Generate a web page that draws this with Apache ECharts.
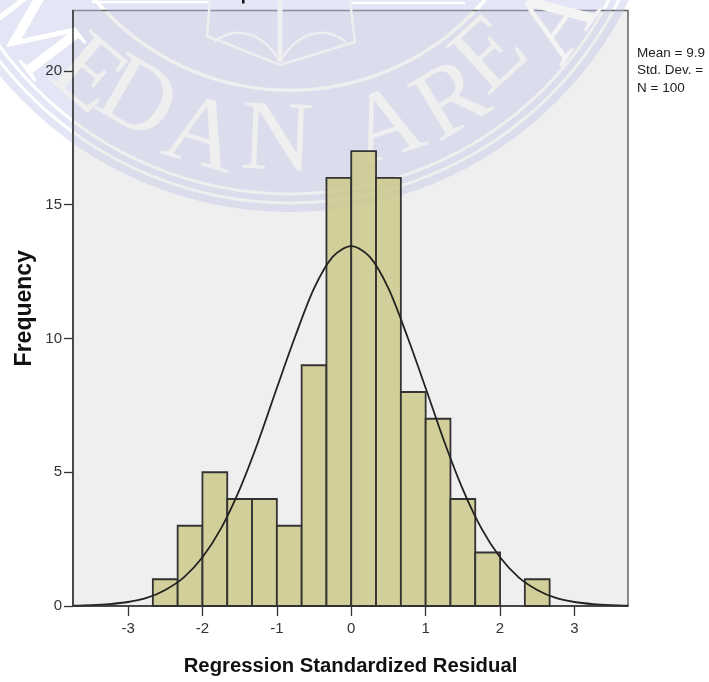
<!DOCTYPE html>
<html><head><meta charset="utf-8">
<style>html,body{margin:0;padding:0;background:#fff}#c{width:709px;height:682px}</style>
<script src="https://cdn.jsdelivr.net/npm/echarts@6/dist/echarts.min.js"></script>
</head><body><div id="c"></div>
<script>
// Histogram: bin left edges are in thirds of a unit
const binStart = [-8,-7,-6,-5,-4,-3,-2,-1,0,1,2,3,4,5,7];
const binCounts = [1,3,5,4,4,3,9,16,17,16,8,7,4,2,1];
const binWidth = 1/3;
// Normal curve
const curveX = [-3.74,-3.5,-3.25,-3,-2.75,-2.5,-2.25,-2,-1.75,-1.5,-1.25,-1,-0.75,-0.5,-0.25,0,0.25,0.5,0.75,1,1.25,1.5,1.75,2,2.25,2.5,2.75,3,3.25,3.5,3.72];
const curveY = [0.01,0.03,0.07,0.15,0.3,0.6,1.07,1.82,2.9,4.36,6.15,8.15,10.1,11.87,13.05,13.45,13.05,11.87,10.1,8.15,6.15,4.36,2.9,1.82,1.07,0.6,0.3,0.15,0.07,0.03,0.01];
const xTicks = [-3,-2,-1,0,1,2,3];
const yTicks = [0,5,10,15,20];
const xTitle = 'Regression Standardized Residual';
const yTitle = 'Frequency';
const statLines = ['Mean = 9.9','Std. Dev. =','N = 100'];
// Watermark letters
const wmLetters = ['M','E','D','A','N','A','R','E','A'];
const wmX = [30,86,136,201,277,387,453,492,560];
const wmY = [33,77,102,138,143,130,103,57,23];
const wmFill = ['#ffffff','#efefef','#efefef','#efefef','#efefef','#efefef','#efefef','#efefef','#f4f4f4'];

const CX=290, CY=-165;
const LAV='rgba(190,195,230,0.42)';
const ring=(r0,r)=>({type:'ring',z:1,silent:true,shape:{cx:CX,cy:CY,r0:r0,r:r},style:{fill:LAV}});
const stroke=(c,w)=>({stroke:c,lineWidth:w,fill:null});
const wm=[ring(0,253.5),ring(257,357.5),ring(360.5,366.5),ring(369.5,377)];
wmLetters.forEach((ch,i)=>{
  wm.push({type:'text',z:1,z2:2,silent:true,x:wmX[i],y:wmY[i],rotation:Math.atan2(wmX[i]-CX,wmY[i]-CY),
    style:{text:ch,fill:wmFill[i],font:'100px "Liberation Serif"',align:'center',verticalAlign:'middle'}});
});
// book emblem
const B='#eeeeee';
wm.push(
 {type:'polyline',z:1,z2:2,silent:true,shape:{points:[[210,0],[207,36],[280,65],[355,42],[350,0]]},style:stroke(B,2.5)},
 {type:'line',z:1,z2:2,silent:true,shape:{x1:280,y1:0,x2:280,y2:62},style:stroke(B,5)},
 {type:'bezierCurve',z:1,z2:2,silent:true,shape:{x1:214,y1:42,cpx1:235,cpy1:25,x2:279,y2:60,cpx2:262,cpy2:32},style:stroke(B,2.5)},
 {type:'bezierCurve',z:1,z2:2,silent:true,shape:{x1:346,y1:42,cpx1:325,cpy1:25,x2:281,y2:60,cpx2:298,cpy2:32},style:stroke(B,2.5)},
 {type:'line',z:1,z2:2,silent:true,shape:{x1:92,y1:2,x2:208,y2:2},style:stroke('#ffffff',2.5)},
 {type:'line',z:1,z2:2,silent:true,shape:{x1:352,y1:3,x2:465,y2:3},style:stroke('#ffffff',2.5)},
 {type:'rect',z:5,silent:true,shape:{x:242,y:0,width:2.5,height:3.5},style:{fill:'#111'}}
);
// statistics block
statLines.forEach((t,i)=>wm.push({type:'text',z:5,x:637,y:53+i*17.5,
  style:{text:t,fill:'#222',font:'13.5px "Liberation Sans"',align:'left',verticalAlign:'middle'}}));

const chart=echarts.init(document.getElementById('c'),null,{renderer:'canvas'});
chart.setOption({
  animation:false,
  backgroundColor:'#fff',
  grid:{left:73,right:81,top:10.5,bottom:76,show:true,outerBoundsMode:'none',backgroundColor:'#efefef',borderColor:'#666',borderWidth:1.5,z:0},
  xAxis:{type:'value',min:-3.74,max:3.72,z:4,splitLine:{show:false},
    name:xTitle,nameLocation:'middle',nameGap:50,nameMoveOverlap:false,
    nameTextStyle:{fontFamily:'"Liberation Sans"',fontWeight:'bold',fontSize:20.3,color:'#111'},
    axisLine:{show:true,onZero:false,lineStyle:{color:'#333',width:1.5}},
    axisTick:{show:true,length:10,customValues:xTicks,lineStyle:{color:'#333',width:1.3}},
    axisLabel:{customValues:xTicks,margin:15,fontFamily:'"Liberation Sans"',fontSize:15,color:'#333',formatter:v=>String(v)}},
  yAxis:{type:'value',min:0,max:22.26,z:4,splitLine:{show:false},
    name:yTitle,nameLocation:'middle',nameGap:37,nameMoveOverlap:false,
    nameTextStyle:{fontFamily:'"Liberation Sans"',fontWeight:'bold',fontSize:23,color:'#111'},
    axisLine:{show:true,onZero:false,lineStyle:{color:'#333',width:1.5}},
    axisTick:{show:true,length:9,customValues:yTicks,lineStyle:{color:'#333',width:1.3}},
    axisLabel:{customValues:yTicks,margin:11,fontFamily:'"Liberation Sans"',fontSize:15,color:'#333',formatter:v=>String(v)}},
  graphic:{elements:wm},
  series:[
    {type:'custom',z:2,silent:true,
     data:binStart.map((s,i)=>[s*binWidth,(s+1)*binWidth,binCounts[i]]),
     encode:{x:[0,1],y:2},
     renderItem:(p,api)=>{
       const a=api.coord([api.value(0),api.value(2)]),b=api.coord([api.value(1),0]);
       return {type:'rect',shape:{x:a[0],y:a[1],width:b[0]-a[0],height:b[1]-a[1]},
         style:{fill:'rgba(206,201,140,0.85)',stroke:'#333',lineWidth:1.8}};
     }},
    {type:'line',z:3,silent:true,smooth:0.3,showSymbol:false,
     data:curveX.map((x,i)=>[x,curveY[i]]),
     lineStyle:{color:'#222',width:1.8}}
  ]
});
</script></body></html>
